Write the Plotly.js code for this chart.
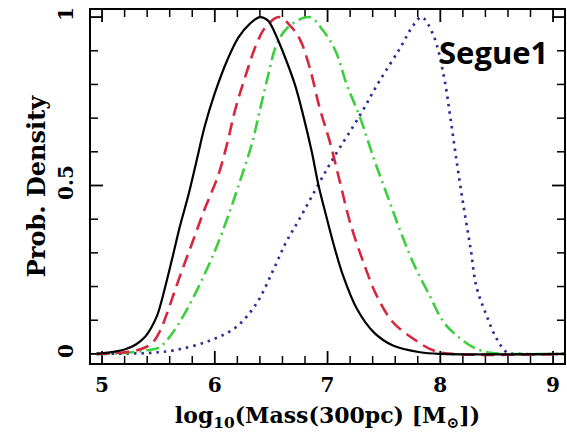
<!DOCTYPE html>
<html>
<head>
<meta charset="utf-8">
<script src="https://cdn.plot.ly/plotly-3.0.1.min.js"></script>
<style>
  html, body { margin: 0; padding: 0; background: #fff; }
  #chart { width: 567px; height: 436px; }
</style>
</head>
<body>
<div id="chart"></div>
<script>
// Posterior probability density of log10 mass within 300 pc (Segue 1), four models.
const blackX = [4.95, 5.0, 5.1, 5.2, 5.3, 5.38, 5.44, 5.49, 5.53, 5.62, 5.69, 5.77, 5.84, 5.91, 6.00, 6.11, 6.21, 6.31, 6.40, 6.47, 6.53, 6.60, 6.71, 6.79, 6.86, 6.92, 6.98, 7.05, 7.14, 7.26, 7.41, 7.58, 7.82, 8.0, 9.1];
const blackY = [0, 0.002, 0.006, 0.013, 0.028, 0.05, 0.08, 0.115, 0.16, 0.28, 0.378, 0.477, 0.576, 0.675, 0.774, 0.872, 0.94, 0.98, 1.0, 0.99, 0.955, 0.90, 0.80, 0.70, 0.60, 0.50, 0.42, 0.33, 0.23, 0.134, 0.064, 0.025, 0.005, 0, 0];

const redX = [4.95, 5.1, 5.3, 5.4, 5.46, 5.52, 5.57, 5.69, 5.80, 5.91, 6.03, 6.11, 6.18, 6.27, 6.37, 6.45, 6.57, 6.68, 6.76, 6.845, 6.93, 7.02, 7.11, 7.2, 7.32, 7.44, 7.58, 7.76, 7.94, 8.1, 9.1];
const redY = [0, 0.002, 0.01, 0.022, 0.038, 0.072, 0.115, 0.23, 0.33, 0.43, 0.53, 0.625, 0.724, 0.823, 0.92, 0.97, 1.0, 0.97, 0.93, 0.846, 0.73, 0.63, 0.51, 0.39, 0.27, 0.17, 0.094, 0.045, 0.01, 0, 0];

const greenX = [4.95, 5.2, 5.38, 5.51, 5.62, 5.75, 5.90, 6.03, 6.14, 6.24, 6.33, 6.40, 6.47, 6.55, 6.65, 6.84, 6.96, 7.07, 7.17, 7.29, 7.41, 7.53, 7.64, 7.76, 7.91, 8.03, 8.18, 8.32, 8.45, 8.6, 9.1];
const greenY = [0, 0.003, 0.01, 0.02, 0.06, 0.13, 0.23, 0.33, 0.43, 0.53, 0.625, 0.724, 0.823, 0.92, 0.97, 1.0, 0.96, 0.90, 0.80, 0.70, 0.58, 0.47, 0.37, 0.27, 0.17, 0.094, 0.045, 0.015, 0.003, 0, 0];

const blueX = [4.95, 5.2, 5.43, 5.66, 5.96, 6.19, 6.37, 6.52, 6.63, 6.75, 6.93, 7.05, 7.29, 7.46, 7.64, 7.76, 7.835, 7.94, 8.03, 8.09, 8.15, 8.21, 8.27, 8.32, 8.41, 8.50, 8.59, 8.7, 9.1];
const blueY = [0, 0.001, 0.003, 0.012, 0.04, 0.08, 0.15, 0.25, 0.33, 0.40, 0.51, 0.58, 0.71, 0.81, 0.906, 0.975, 1.0, 0.945, 0.827, 0.70, 0.56, 0.43, 0.31, 0.20, 0.114, 0.045, 0.005, 0, 0];

const xTicks = [5, 6, 7, 8, 9];
const xMinorTicks = [5.2, 5.4, 5.6, 5.8, 6.2, 6.4, 6.6, 6.8, 7.2, 7.4, 7.6, 7.8, 8.2, 8.4, 8.6, 8.8];
const yTicks = [0, 0.5, 1];
const yMinorTicks = [0.1, 0.2, 0.3, 0.4, 0.6, 0.7, 0.8, 0.9];
const yTickText = ['0', '0.5', '1'];
const panelLabel = 'Segue1';

const serif = 'DejaVu Serif, Liberation Serif, serif';

const W = 567, H = 436;
const M = { l: 91, r: 3, t: 10, b: 73 };
const plotW = W - M.l - M.r, plotH = H - M.t - M.b;
const xRange = [4.902, 9.097], yRange = [-0.027, 1.021];
const MAJOR_LEN = 12, MINOR_LEN = 7;

function curve(x, y, color, dash, width) {
  return {
    x: x, y: y, type: 'scatter', mode: 'lines',
    line: { color: color, dash: dash, width: width, shape: 'spline', smoothing: 1 },
    hoverinfo: 'skip', showlegend: false
  };
}

// Inward-pointing tick marks on all four sides of the frame, as one line trace
// per tick size; lengths are converted from pixels to axis units.
function tickTrace(xVals, yVals, len, width) {
  const dy = len * (yRange[1] - yRange[0]) / plotH;
  const dx = len * (xRange[1] - xRange[0]) / plotW;
  const x = [], y = [];
  xVals.forEach(v => {
    x.push(v, v, null, v, v, null);
    y.push(yRange[0], yRange[0] + dy, null, yRange[1], yRange[1] - dy, null);
  });
  yVals.forEach(v => {
    x.push(xRange[0], xRange[0] + dx, null, xRange[1], xRange[1] - dx, null);
    y.push(v, v, null, v, v, null);
  });
  return {
    x: x, y: y, type: 'scatter', mode: 'lines', connectgaps: false,
    line: { color: '#000', width: width },
    hoverinfo: 'skip', showlegend: false, cliponaxis: false
  };
}

const traces = [
  tickTrace(xMinorTicks, yMinorTicks, MINOR_LEN, 1.5),
  tickTrace(xTicks, yTicks, MAJOR_LEN, 1.8),
  curve(blueX, blueY, '#2e2e96', '2.5px,5px', 2.7),
  curve(greenX, greenY, '#3ccf3c', '13px,5px,2px,5px', 2.6),
  curve(redX, redY, '#d7263d', '13px,7px', 2.6),
  curve(blackX, blackY, '#000000', 'solid', 2.2)
];

const layout = {
  width: W, height: H,
  margin: M,
  paper_bgcolor: '#fff', plot_bgcolor: '#fff',
  xaxis: {
    showgrid: false, zeroline: false,
    showline: true, linecolor: '#000', linewidth: 2, mirror: true,
    ticks: '',
    tickfont: { family: serif, size: 20, color: '#000', weight: 'bold' },
    range: xRange,
    tickmode: 'array', tickvals: xTicks,
    ticklabelstandoff: 3,
    title: { text: 'log<sub>10</sub>(Mass(300pc) [M<sub>⊙</sub>])', font: { family: serif, size: 22, color: '#000', weight: 'bold' }, standoff: 12 }
  },
  yaxis: {
    showgrid: false, zeroline: false,
    showline: true, linecolor: '#000', linewidth: 2, mirror: true,
    ticks: '',
    tickfont: { family: serif, size: 20, color: '#000', weight: 'bold' },
    range: yRange,
    tickmode: 'array', tickvals: yTicks, ticktext: yTickText,
    tickangle: -90,
    ticklabelstandoff: 8,
    title: { text: 'Prob. Density', font: { family: serif, size: 24, color: '#000', weight: 'bold' }, standoff: 2 }
  },
  annotations: [{
    x: 8.47, y: 0.895, xref: 'x', yref: 'y',
    text: '<b>' + panelLabel + '</b>', showarrow: false,
    xanchor: 'center', yanchor: 'middle',
    font: { family: 'Open Sans, Noto Sans, sans-serif', size: 31, color: '#000' }
  }]
};

Plotly.newPlot('chart', traces, layout, { staticPlot: true, displayModeBar: false });
</script>
</body>
</html>
